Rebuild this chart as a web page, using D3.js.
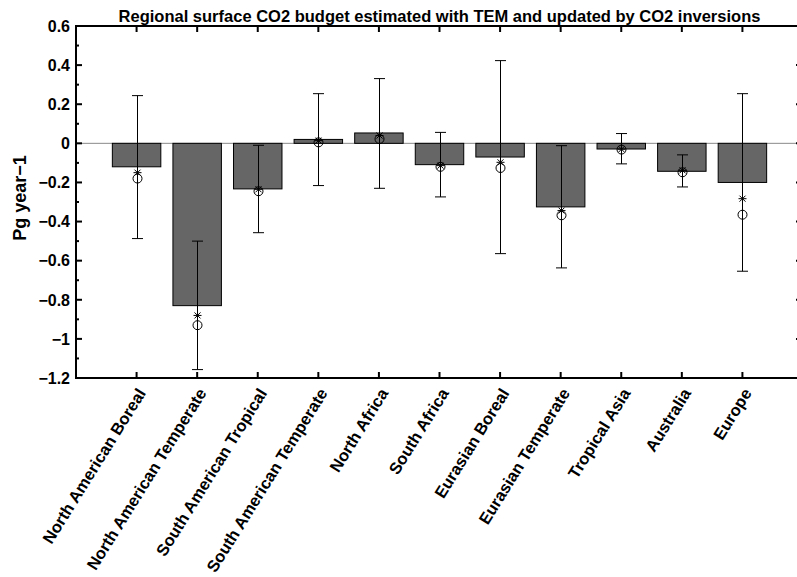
<!DOCTYPE html>
<html>
<head>
<meta charset="utf-8">
<script src="https://cdn.jsdelivr.net/npm/d3@7"></script>
<style>
  body { margin: 0; background: #fff; }
  svg { display: block; font-family: "Liberation Sans", Arial, Helvetica, sans-serif; }
</style>
</head>
<body>
<svg width="797" height="577"></svg>
<script>
"use strict";

const regions = ['North American Boreal', 'North American Temperate', 'South American Tropical',
    'South American Temperate', 'North Africa', 'South Africa', 'Eurasian Boreal',
    'Eurasian Temperate', 'Tropical Asia', 'Australia', 'Europe'];
// TEM estimate (bars)
const temFlux = [-0.12, -0.83, -0.233, 0.02, 0.053, -0.109, -0.07, -0.325, -0.029, -0.143, -0.2];
// inversion range (error bars)
const errLow = [-0.487, -1.157, -0.457, -0.216, -0.23, -0.274, -0.564, -0.637, -0.105, -0.223, -0.654];
const errHigh = [0.244, -0.50, -0.01, 0.254, 0.331, 0.056, 0.423, -0.012, 0.05, -0.059, 0.254];
// updated estimates
const starVals = [-0.15, -0.88, -0.235, 0.014, 0.04, -0.114, -0.097, -0.344, -0.03, -0.138, -0.283];
const circleVals = [-0.18, -0.93, -0.245, 0.005, 0.022, -0.12, -0.126, -0.368, -0.032, -0.148, -0.365];
const yTicks = [0.6, 0.4, 0.2, 0, -0.2, -0.4, -0.6, -0.8, -1, -1.2];

const svg = d3.select('svg');
const mLeft = 76, mRight = 803, mTop = 26, mBottom = 378;

const x = d3.scaleLinear().domain([0, regions.length + 1]).range([mLeft, mRight]);
const y = d3.scaleLinear().domain([-1.2, 0.6]).range([mBottom, mTop]);
const fmt = d => d === 0 ? '0' : d3.format('.1f')(d).replace('-', '\u2212').replace(/\.0$/, '');

const idx = d3.range(regions.length);
const barW = x(0.8) - x(0);

// zero line
svg.append('line')
    .attr('x1', mLeft).attr('x2', mRight)
    .attr('y1', y(0)).attr('y2', y(0))
    .attr('stroke', '#8a8a8a').attr('stroke-width', 1);

// bars
svg.append('g').selectAll('rect')
    .data(idx)
    .join('rect')
    .attr('x', i => x(i + 1) - barW / 2)
    .attr('width', barW)
    .attr('y', i => y(Math.max(0, temFlux[i])))
    .attr('height', i => Math.abs(y(temFlux[i]) - y(0)))
    .attr('fill', '#666666')
    .attr('stroke', '#000')
    .attr('stroke-width', 1);

// error bars
const eg = svg.append('g').attr('stroke', '#000').attr('stroke-width', 1);
idx.forEach(i => {
    const cx = Math.round(x(i + 1)) + 0.5;
    eg.append('line').attr('x1', cx).attr('x2', cx).attr('y1', y(errLow[i])).attr('y2', y(errHigh[i]));
    [errLow[i], errHigh[i]].forEach(v => {
        eg.append('line').attr('x1', cx - 5.5).attr('x2', cx + 5.5).attr('y1', y(v)).attr('y2', y(v));
    });
});

// star markers
const sg = svg.append('g').attr('stroke', '#000').attr('stroke-width', 1);
idx.forEach(i => {
    const cx = Math.round(x(i + 1)) + 0.5, cy = y(starVals[i]), r = 4;
    sg.append('path').attr('d',
        `M${cx - r},${cy}H${cx + r}M${cx},${cy - r}V${cy + r}` +
        `M${cx - r * 0.75},${cy - r * 0.75}L${cx + r * 0.75},${cy + r * 0.75}` +
        `M${cx - r * 0.75},${cy + r * 0.75}L${cx + r * 0.75},${cy - r * 0.75}`);
});

// circle markers
svg.append('g').selectAll('circle')
    .data(idx)
    .join('circle')
    .attr('cx', i => Math.round(x(i + 1)) + 0.5)
    .attr('cy', i => y(circleVals[i]))
    .attr('r', 4.5)
    .attr('fill', 'none')
    .attr('stroke', '#000')
    .attr('stroke-width', 1);

// axes frame
const frame = svg.append('g').attr('stroke', '#000').attr('stroke-width', 2);
frame.append('line').attr('x1', mLeft).attr('x2', mRight).attr('y1', mTop).attr('y2', mTop);
frame.append('line').attr('x1', mLeft).attr('x2', mRight).attr('y1', mBottom).attr('y2', mBottom);
frame.append('line').attr('x1', mLeft).attr('x2', mLeft).attr('y1', mTop - 1).attr('y2', mBottom + 1);
frame.append('line').attr('x1', mRight).attr('x2', mRight).attr('y1', mTop - 1).attr('y2', mBottom + 1);

// category ticks top & bottom
idx.forEach(i => {
    const cx = x(i + 1);
    frame.append('line').attr('x1', cx).attr('x2', cx).attr('y1', mTop).attr('y2', mTop + 6);
    frame.append('line').attr('x1', cx).attr('x2', cx).attr('y1', mBottom).attr('y2', mBottom - 6);
});

// y ticks, major and minor, left & right
d3.range(-1.1, 0.6, 0.2).forEach(v => {
    frame.append('line').attr('x1', mLeft).attr('x2', mLeft + 3).attr('y1', y(v)).attr('y2', y(v));
    frame.append('line').attr('x1', mRight).attr('x2', mRight - 3).attr('y1', y(v)).attr('y2', y(v));
});
yTicks.forEach(v => {
    frame.append('line').attr('x1', mLeft).attr('x2', mLeft + 6).attr('y1', y(v)).attr('y2', y(v));
    frame.append('line').attr('x1', mRight).attr('x2', mRight - 7).attr('y1', y(v)).attr('y2', y(v));
});

// y tick labels
svg.append('g').selectAll('text')
    .data(yTicks)
    .join('text')
    .attr('x', mLeft - 6)
    .attr('y', d => y(d))
    .attr('dy', '0.36em')
    .attr('text-anchor', 'end')
    .attr('font-size', 16)
    .attr('font-weight', 'bold')
    .text(fmt);

// x labels
svg.append('g').selectAll('text')
    .data(idx)
    .join('text')
    .attr('transform', i => `translate(${x(i + 1) + 5},${mBottom + 12}) rotate(-58)`)
    .attr('dy', '0.35em')
    .attr('text-anchor', 'end')
    .attr('font-size', 16.5)
    .attr('font-weight', 'bold')
    .text(i => regions[i]);

// y axis label
svg.append('text')
    .attr('transform', `translate(26,198) rotate(-90)`)
    .attr('text-anchor', 'middle')
    .attr('font-size', 18)
    .attr('font-weight', 'bold')
    .text('Pg year\u22121');

// title
svg.append('text')
    .attr('x', (mLeft + mRight) / 2)
    .attr('y', 22)
    .attr('text-anchor', 'middle')
    .attr('font-size', 16.5)
    .attr('font-weight', 'bold')
    .text('Regional surface CO2 budget estimated with TEM and updated by CO2 inversions');
</script>
</body>
</html>
